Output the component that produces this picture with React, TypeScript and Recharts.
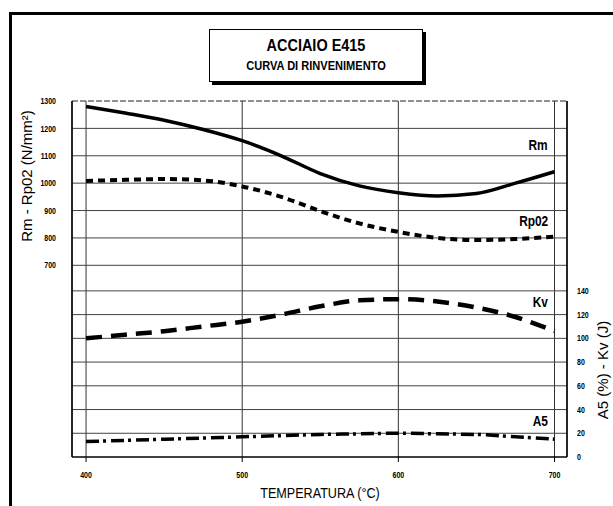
import React from "react";
import {
  LineChart,
  Line,
  XAxis,
  YAxis,
  CartesianGrid,
  ReferenceLine,
} from "recharts";

const temperature = [400, 425, 450, 475, 500, 525, 550, 575, 600, 625, 650, 675, 700];
const rm = [1280, 1256, 1230, 1196, 1155, 1100, 1035, 990, 965, 953, 962, 1000, 1042];
const rp02 = [1008, 1012, 1015, 1010, 988, 950, 898, 853, 822, 800, 792, 796, 805];
const kv = [100, 103, 106, 110, 114, 120, 127, 132, 133, 131, 126, 118, 106];
const a5 = [13, 14, 15, 16, 17, 18, 19, 19.5, 20, 19.5, 19, 17, 15];

const xTicks = [400, 500, 600, 700];
const leftTicks = [700, 800, 900, 1000, 1100, 1200, 1300];
const rightTicks = [0, 20, 40, 60, 80, 100, 120, 140];
const leftGrid = [700, 800, 900, 1000, 1100, 1200];
const rightGrid = [20, 40, 60, 80, 100, 120, 140];

const data = temperature.map((t, i) => ({
  t,
  rm: rm[i],
  rp02: rp02[i],
  kv: kv[i],
  a5: a5[i],
}));

const SANS = "'Liberation Sans', Arial, Helvetica, sans-serif";

// testo "stretto" come nell'originale (Helvetica Narrow)
function NarrowTick(props: any) {
  const { x, y, payload, textAnchor, axis } = props;
  const isX = axis === "x";
  return (
    <text
      transform={`translate(${x},${y}) scale(0.78,1)`}
      textAnchor={textAnchor}
      dy={isX ? "0.71em" : "0.35em"}
      fontSize={9}
      fontWeight={700}
      fontFamily={SANS}
      fill="#000"
    >
      {payload.value}
    </text>
  );
}

const seriesLabel: React.CSSProperties = {
  position: "absolute",
  right: 613 - 548,
  fontFamily: SANS,
  fontWeight: 700,
  fontSize: 14,
  lineHeight: "14px",
  color: "#000",
  transform: "scaleX(0.85)",
  transformOrigin: "right center",
};

export default function App() {
  return (
    <div
      style={{
        position: "absolute",
        left: 0,
        top: 0,
        width: 613,
        height: 506,
        background: "#fff",
        overflow: "hidden",
      }}
    >
      {/* cornice */}
      <div style={{ position: "absolute", left: 9, top: 12, width: 604, height: 3, background: "#000" }} />
      <div style={{ position: "absolute", left: 9, top: 12, width: 3, height: 494, background: "#000" }} />

      {/* titolo */}
      <div
        style={{
          position: "absolute",
          left: 209,
          top: 29,
          width: 212,
          height: 51,
          border: "1.5px solid #000",
          boxShadow: "3px 3px 0 #000",
          background: "#fff",
          textAlign: "center",
          fontFamily: SANS,
          fontWeight: 700,
          color: "#000",
        }}
      >
        <div style={{ fontSize: 17, marginTop: 7, lineHeight: "18px", transform: "scaleX(0.85)" }}>
          ACCIAIO E415
        </div>
        <div style={{ fontSize: 13, marginTop: 4, lineHeight: "14px", transform: "scaleX(0.85)" }}>
          CURVA DI RINVENIMENTO
        </div>
      </div>

      <div style={{ position: "absolute", left: 0, top: 0 }}>
        <LineChart
          width={613}
          height={506}
          data={data}
          margin={{ top: 101, right: 16, bottom: 19, left: 32 }}
        >
          <CartesianGrid yAxisId="left" horizontal={false} stroke="#333" strokeWidth={1} />
          <XAxis
            dataKey="t"
            type="number"
            domain={[391, 708]}
            ticks={xTicks}
            height={30}
            tickSize={5}
            tickMargin={10}
            tick={<NarrowTick axis="x" />}
            axisLine={{ stroke: "#000", strokeWidth: 1.5 }}
            tickLine={{ stroke: "#000" }}
          />
          <YAxis
            yAxisId="left"
            domain={[0, 1300]}
            ticks={leftTicks}
            width={40}
            tickSize={0}
            tickMargin={16}
            tick={<NarrowTick axis="y" />}
            axisLine={{ stroke: "#000", strokeWidth: 1.5 }}
            tickLine={false}
            interval={0}
          />
          <YAxis
            yAxisId="right"
            orientation="right"
            domain={[0, 300]}
            ticks={rightTicks}
            width={30}
            tickSize={0}
            tickMargin={10}
            tick={<NarrowTick axis="y" />}
            axisLine={{ stroke: "#000", strokeWidth: 1.5 }}
            tickLine={false}
            interval={0}
          />
          {leftGrid.map((v) => (
            <ReferenceLine key={"l" + v} yAxisId="left" y={v} stroke="#444" strokeWidth={1} />
          ))}
          {rightGrid.map((v) => (
            <ReferenceLine key={"r" + v} yAxisId="right" y={v} stroke="#444" strokeWidth={1} />
          ))}
          <ReferenceLine yAxisId="left" y={1300} stroke="#222" strokeWidth={1} strokeDasharray="6 2" />

          <Line
            yAxisId="left"
            dataKey="rm"
            type="monotone"
            stroke="#000"
            strokeWidth={3.5}
            dot={false}
            isAnimationActive={false}
          />
          <Line
            yAxisId="left"
            dataKey="rp02"
            type="monotone"
            stroke="#000"
            strokeWidth={4}
            strokeDasharray="7 5"
            dot={false}
            isAnimationActive={false}
          />
          <Line
            yAxisId="right"
            dataKey="kv"
            type="monotone"
            stroke="#000"
            strokeWidth={4.5}
            strokeDasharray="16 9"
            dot={false}
            isAnimationActive={false}
          />
          <Line
            yAxisId="right"
            dataKey="a5"
            type="monotone"
            stroke="#000"
            strokeWidth={3.5}
            strokeDasharray="13 4 3 5"
            dot={false}
            isAnimationActive={false}
          />
        </LineChart>
      </div>

      {/* etichette delle curve */}
      <div style={{ ...seriesLabel, top: 138 }}>Rm</div>
      <div style={{ ...seriesLabel, top: 214 }}>Rp02</div>
      <div style={{ ...seriesLabel, top: 295 }}>Kv</div>
      <div style={{ ...seriesLabel, top: 414 }}>A5</div>

      {/* titoli degli assi */}
      <div
        style={{
          position: "absolute",
          left: 26,
          top: 176,
          transform: "translate(-50%, -50%) rotate(-90deg)",
          whiteSpace: "nowrap",
          fontFamily: SANS,
          fontSize: 15,
          color: "#000",
        }}
      >
        Rm - Rp02 (N/mm²)
      </div>
      <div
        style={{
          position: "absolute",
          left: 602,
          top: 370,
          transform: "translate(-50%, -50%) rotate(-90deg)",
          whiteSpace: "nowrap",
          fontFamily: SANS,
          fontSize: 15,
          color: "#000",
        }}
      >
        A5 (%) - Kv (J)
      </div>
      <div
        style={{
          position: "absolute",
          left: 320,
          top: 493,
          transform: "translate(-50%, -50%) scaleX(0.9)",
          whiteSpace: "nowrap",
          fontFamily: SANS,
          fontSize: 14,
          color: "#000",
        }}
      >
        TEMPERATURA (°C)
      </div>
    </div>
  );
}
